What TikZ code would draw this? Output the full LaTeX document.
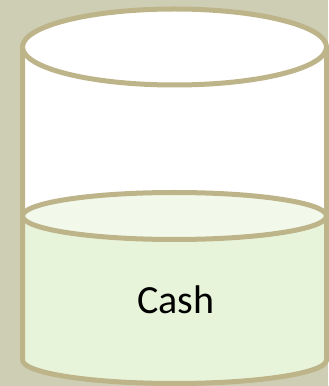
\documentclass[tikz,border=0pt]{standalone}
\usepackage{fontspec}
\setmainfont{Carlito}
\definecolor{bgtan}{RGB}{206,206,180}
\definecolor{rim}{RGB}{189,180,138}
\definecolor{cashfill}{RGB}{232,244,218}
\definecolor{cashtop}{RGB}{242,249,234}
\begin{document}
\begin{tikzpicture}[x=0.5pt,y=0.5pt,line width=2.5pt]
\fill[bgtan] (0,0) rectangle (328,386);
\useasboundingbox (0,0) rectangle (328,386);
% empty part of the can
\fill[white] (22.5,339) rectangle (326.5,170);
% cash level
\fill[cashfill] (22.5,170) -- (22.5,26) arc[start angle=180,end angle=360,x radius=152,y radius=23.5] -- (326.5,170) -- cycle;
\draw[rim,fill=cashtop] (174.5,170) ellipse[x radius=152,y radius=23.5];
% outline
\draw[rim] (22.5,339) -- (22.5,26) arc[start angle=180,end angle=360,x radius=152,y radius=23.5] -- (326.5,339);
\draw[rim,fill=white] (174.5,339) ellipse[x radius=152,y radius=38];
\node[font=\fontsize{20}{24}\selectfont] (cash) at (176,86) {Cash};
\end{tikzpicture}
\end{document}
